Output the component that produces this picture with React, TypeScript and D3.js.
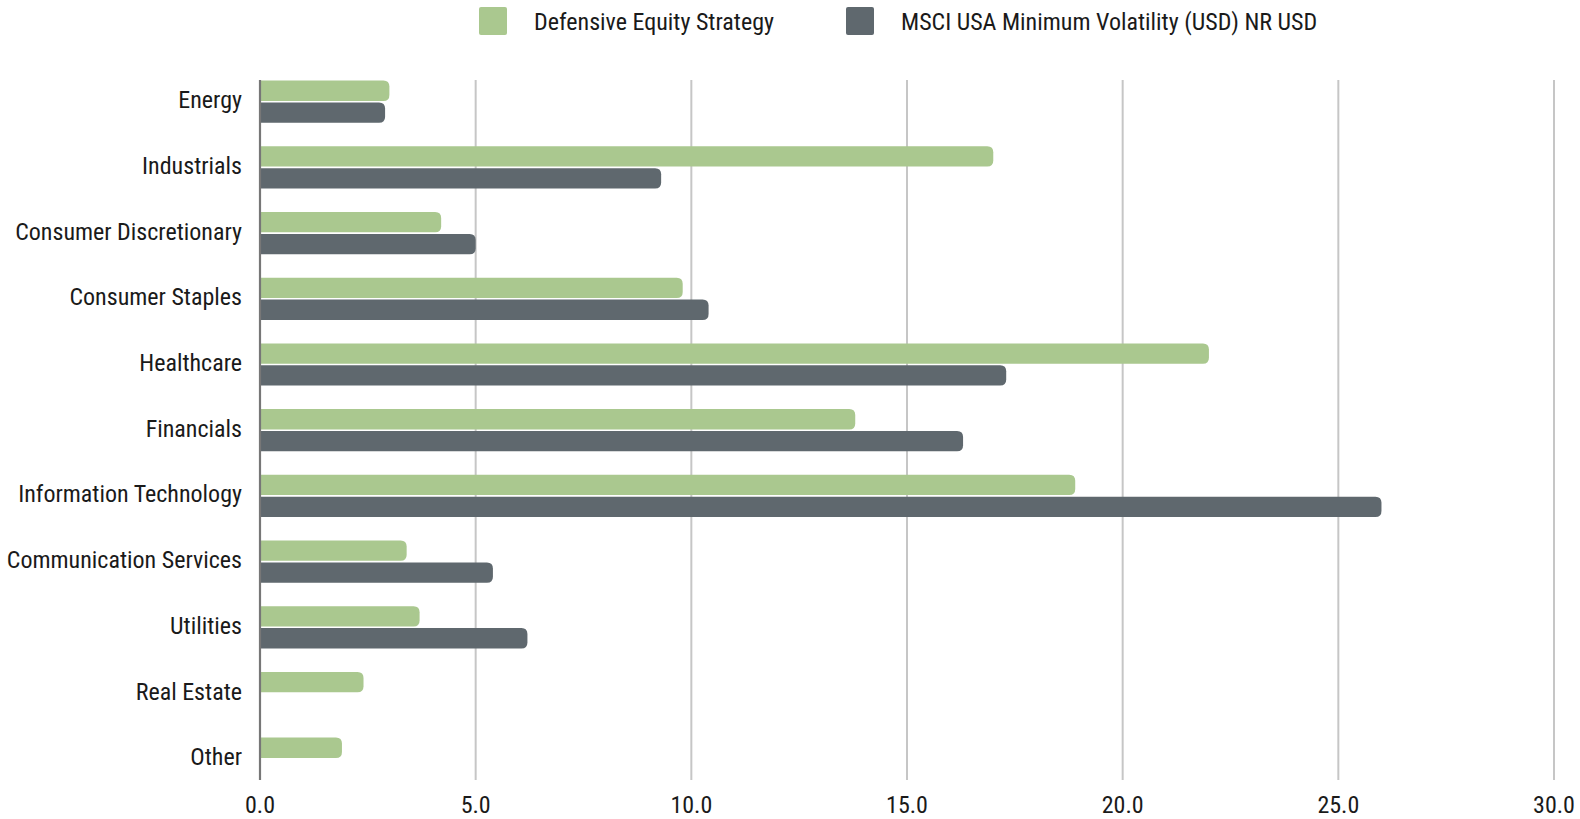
import { useMemo } from "react";
import * as d3 from "d3";

const categories = [
  "Energy",
  "Industrials",
  "Consumer Discretionary",
  "Consumer Staples",
  "Healthcare",
  "Financials",
  "Information Technology",
  "Communication Services",
  "Utilities",
  "Real Estate",
  "Other",
];

const strategyValues = [3.0, 17.0, 4.2, 9.8, 22.0, 13.8, 18.9, 3.4, 3.7, 2.4, 1.9];
const benchmarkValues = [2.9, 9.3, 5.0, 10.4, 17.3, 16.3, 26.0, 5.4, 6.2, 0, 0];

const xTicks = [0, 5, 10, 15, 20, 25, 30];

const seriesNames = ["Defensive Equity Strategy", "MSCI USA Minimum Volatility (USD) NR USD"];

const GREEN = "#aac88f";
const DARK = "#5f686e";
const FONT = "'Roboto Condensed', 'Liberation Sans Narrow', 'DejaVu Sans Condensed', Roboto, sans-serif";

// bar with rounded right end
function barPath(x0: number, x1: number, y: number, h: number, r: number) {
  const w = x1 - x0;
  if (w <= 0) return "";
  const rr = Math.min(r, w, h / 2);
  return `M${x0},${y}H${x1 - rr}Q${x1},${y} ${x1},${y + rr}V${y + h - rr}Q${x1},${y + h} ${x1 - rr},${y + h}H${x0}Z`;
}

export default function App() {
  const width = 1580;
  const height = 819;

  const x = useMemo(() => d3.scaleLinear().domain([0, 30]).range([260, 1554]), []);
  const y = useMemo(
    () => d3.scaleBand<string>().domain(categories).range([68.85, 68.85 + 11 * 65.7]).padding(0),
    []
  );

  const barH = 20.3;
  const gap = 1.6;
  const fs = 24;

  return (
    <div
      style={{
        position: "fixed",
        left: 0,
        top: 0,
        width,
        height,
        background: "#fff",
        overflow: "hidden",
      }}
    >
      <svg width={width} height={height} style={{ display: "block" }} fontFamily={FONT}>
        {/* legend */}
        <rect x={479} y={7} width={28} height={28} rx={2} fill={GREEN} />
        <text x={534} y={29.5} fontSize={fs} fill="#1a1a1a">
          {seriesNames[0]}
        </text>
        <rect x={846} y={7} width={28} height={28} rx={2} fill={DARK} />
        <text x={901} y={29.5} fontSize={fs} fill="#1a1a1a">
          {seriesNames[1]}
        </text>

        {/* gridlines */}
        {xTicks.slice(1).map((t) => (
          <line key={t} x1={x(t)} x2={x(t)} y1={80} y2={780} stroke="#c6c6c6" strokeWidth={2} />
        ))}

        {/* bars */}
        {categories.map((c, i) => {
          const cy = (y(c) ?? 0) + y.bandwidth() / 2;
          return (
            <g key={c}>
              <path d={barPath(x(0), x(strategyValues[i]), cy - gap / 2 - barH, barH, 6)} fill={GREEN} />
              <path d={barPath(x(0), x(benchmarkValues[i]), cy + gap / 2, barH, 6)} fill={DARK} />
              <text x={242} y={cy + 6.5} textAnchor="end" fontSize={fs} fill="#1a1a1a">
                {c}
              </text>
            </g>
          );
        })}

        {/* axis line */}
        <line x1={x(0)} x2={x(0)} y1={80} y2={780} stroke="#777" strokeWidth={2.2} />

        {/* tick labels */}
        {xTicks.map((t) => (
          <text key={t} x={x(t)} y={813} textAnchor="middle" fontSize={fs} fill="#1a1a1a">
            {t.toFixed(1)}
          </text>
        ))}
      </svg>
    </div>
  );
}
